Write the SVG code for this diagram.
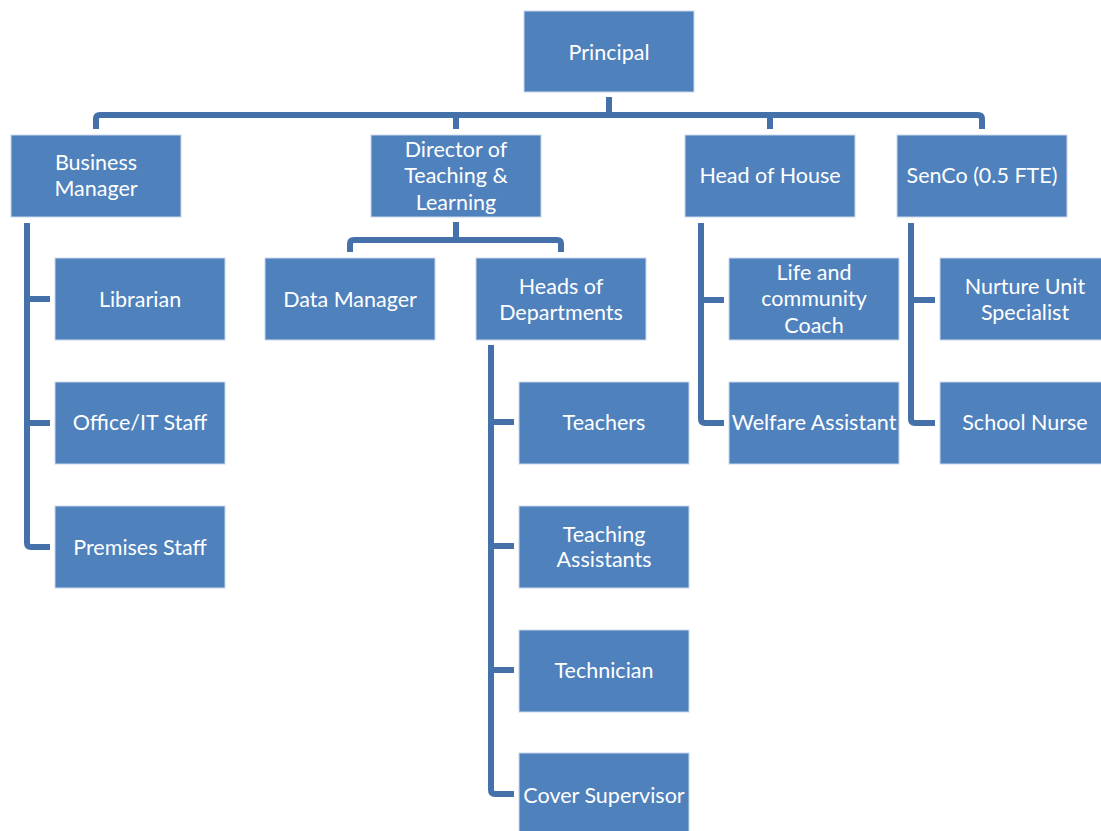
<svg xmlns="http://www.w3.org/2000/svg" width="1101" height="831" viewBox="0 0 1101 831">
  <style>
    .box { fill: #4f81bd; stroke: #c9d8ec; stroke-width: 1; }
    .lbl { fill: #ffffff; font-family: Lato, "Open Sans", "Liberation Sans", sans-serif; font-size: 21.5px; text-anchor: middle; dominant-baseline: central; }
    .conn { fill: none; stroke: #4571aa; stroke-width: 6; stroke-linejoin: round; }
  </style>
  <rect width="1101" height="831" fill="#ffffff"/>

  <!-- connectors -->
  <g id="connectors">
    <path class="conn" d="M609,97 V115"/>
    <path class="conn" d="M96,129 V119 Q96,115 100,115 H978 Q982,115 982,119 V129"/>
    <path class="conn" d="M456,115 V129"/>
    <path class="conn" d="M770,115 V129"/>

    <path class="conn" d="M456,222 V240"/>
    <path class="conn" d="M350,252 V244 Q350,240 354,240 H557 Q561,240 561,244 V252"/>

    <path class="conn" d="M27,223 V543 Q27,547 31,547 H50"/>
    <path class="conn" d="M27,299 H50"/>
    <path class="conn" d="M27,423 H50"/>

    <path class="conn" d="M491,345 V790 Q491,794 495,794 H514"/>
    <path class="conn" d="M491,422 H514"/>
    <path class="conn" d="M491,546 H514"/>
    <path class="conn" d="M491,670 H514"/>

    <path class="conn" d="M701,223 V419 Q701,423 705,423 H724"/>
    <path class="conn" d="M701,300 H724"/>

    <path class="conn" d="M911,223 V419 Q911,423 915,423 H935"/>
    <path class="conn" d="M911,300 H935"/>
  </g>

  <g id="principal">
    <rect class="box" x="524" y="11" width="170" height="81"/>
    <text class="lbl" x="609" y="52">Principal</text>
  </g>

  <g id="business-manager">
    <rect class="box" x="11" y="135" width="170" height="82"/>
    <text class="lbl" x="96" y="162">Business</text>
    <text class="lbl" x="96" y="188">Manager</text>
  </g>
  <g id="director">
    <rect class="box" x="371" y="135" width="170" height="82"/>
    <text class="lbl" x="456" y="149">Director of</text>
    <text class="lbl" x="456" y="175">Teaching &amp;</text>
    <text class="lbl" x="456" y="202">Learning</text>
  </g>
  <g id="head-of-house">
    <rect class="box" x="685" y="135" width="170" height="82"/>
    <text class="lbl" x="770" y="175">Head of House</text>
  </g>
  <g id="senco">
    <rect class="box" x="897" y="135" width="170" height="82"/>
    <text class="lbl" x="982" y="175">SenCo (0.5 FTE)</text>
  </g>

  <g id="librarian">
    <rect class="box" x="55" y="258" width="170" height="82"/>
    <text class="lbl" x="140" y="299">Librarian</text>
  </g>
  <g id="office-it">
    <rect class="box" x="55" y="382" width="170" height="82"/>
    <text class="lbl" x="140" y="422">Office/IT Staff</text>
  </g>
  <g id="premises">
    <rect class="box" x="55" y="506" width="170" height="82"/>
    <text class="lbl" x="140" y="547">Premises Staff</text>
  </g>

  <g id="data-manager">
    <rect class="box" x="265" y="258" width="170" height="82"/>
    <text class="lbl" x="350" y="299">Data Manager</text>
  </g>
  <g id="heads-of-departments">
    <rect class="box" x="476" y="258" width="170" height="82"/>
    <text class="lbl" x="561" y="286">Heads of</text>
    <text class="lbl" x="561" y="312">Departments</text>
  </g>

  <g id="teachers">
    <rect class="box" x="519" y="382" width="170" height="82"/>
    <text class="lbl" x="604" y="422">Teachers</text>
  </g>
  <g id="teaching-assistants">
    <rect class="box" x="519" y="506" width="170" height="82"/>
    <text class="lbl" x="604" y="534">Teaching</text>
    <text class="lbl" x="604" y="559">Assistants</text>
  </g>
  <g id="technician">
    <rect class="box" x="519" y="630" width="170" height="82"/>
    <text class="lbl" x="604" y="670">Technician</text>
  </g>
  <g id="cover-supervisor">
    <rect class="box" x="519" y="753" width="170" height="82"/>
    <text class="lbl" x="604" y="795">Cover Supervisor</text>
  </g>

  <g id="life-community-coach">
    <rect class="box" x="729" y="258" width="170" height="82"/>
    <text class="lbl" x="814" y="272">Life and</text>
    <text class="lbl" x="814" y="298">community</text>
    <text class="lbl" x="814" y="325">Coach</text>
  </g>
  <g id="welfare-assistant">
    <rect class="box" x="729" y="382" width="170" height="82"/>
    <text class="lbl" x="814" y="422">Welfare Assistant</text>
  </g>

  <g id="nurture-unit">
    <rect class="box" x="940" y="258" width="170" height="82"/>
    <text class="lbl" x="1025" y="286">Nurture Unit</text>
    <text class="lbl" x="1025" y="312">Specialist</text>
  </g>
  <g id="school-nurse">
    <rect class="box" x="940" y="382" width="170" height="82"/>
    <text class="lbl" x="1025" y="422">School Nurse</text>
  </g>
</svg>
